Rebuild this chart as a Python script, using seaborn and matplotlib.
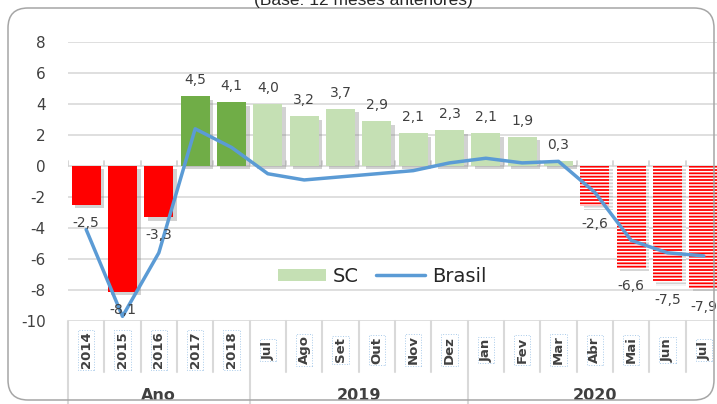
import numpy as np
import pandas as pd
import seaborn as sns
import matplotlib
matplotlib.use("Agg")
import matplotlib.pyplot as plt
import matplotlib.patheffects as pe
from matplotlib.patches import Patch, FancyBboxPatch
from matplotlib.lines import Line2D
from matplotlib.transforms import IdentityTransform, blended_transform_factory

# ---- data ----
cat_labels = ["2014", "2015", "2016", "2017", "2018",
              "Jul", "Ago", "Set", "Out", "Nov", "Dez",
              "Jan", "Fev", "Mar", "Abr", "Mai", "Jun", "Jul"]
sc = [-2.5, -8.1, -3.3, 4.5, 4.1,
      4.0, 3.2, 3.7, 2.9, 2.1, 2.3,
      2.1, 1.9, 0.3, -2.6, -6.6, -7.5, -7.9]
brasil = [-4.1, -9.7, -5.6, 2.4, 1.2,
          -0.5, -0.9, -0.7, -0.5, -0.3, 0.2,
          0.5, 0.2, 0.3, -1.7, -4.8, -5.6, -5.8]
groups = ["Ano", "2019", "2020"]
group_sizes = [5, 6, 7]
yticks = list(range(-10, 9, 2))
title = "(Base: 12 meses anteriores)"

RED = "#FF0000"
DKGREEN = "#70AD47"
LTGREEN = "#C5E0B4"
BLUE = "#5B9BD5"
bar_colors = [RED] * 3 + [DKGREEN] * 2 + [LTGREEN] * 9 + [RED] * 4
hatched = [False] * 14 + [True] * 4

sns.set_theme(style="white")
plt.rcParams["font.family"] = ["DejaVu Sans"]
plt.rcParams["axes.unicode_minus"] = False
plt.rcParams["hatch.linewidth"] = 1.1

fig = plt.figure(figsize=(7.17, 4.04), dpi=100)
W, H = 717, 404
x0, x1 = 68, 722
ybot, ytop = 321, 42
ax = fig.add_axes([x0 / W, 1 - ybot / H, (x1 - x0) / W, (ybot - ytop) / H])

df = pd.DataFrame({"pos": np.arange(len(sc)), "SC": sc, "Brasil": brasil})

sns.barplot(data=df, x="pos", y="SC", color=LTGREEN, saturation=1,
            width=0.8, ax=ax, zorder=3)
shadow = [pe.SimplePatchShadow(offset=(2.5, -2.5), shadow_rgbFace="#808080", alpha=0.35),
          pe.Normal()]
for p, c, h in zip(ax.patches, bar_colors, hatched):
    p.set_facecolor(c)
    if h:
        p.set_hatch("-----")
        p.set_edgecolor("white")
        p.set_linewidth(0)
    else:
        p.set_edgecolor("none")
    p.set_path_effects(shadow)

sns.lineplot(data=df, x="pos", y="Brasil", color=BLUE, lw=2.5, ax=ax,
             zorder=5, sort=False)

ax.set_xlim(-0.5, len(sc) - 0.5)
ax.set_ylim(-10, 8)
ax.set_yticks(yticks)
ax.set_yticklabels([str(t) for t in yticks])
ax.tick_params(axis="y", length=0, pad=16, labelsize=11, labelcolor="#404040")
ax.set_xticks([])
ax.set_xlabel("")
ax.set_ylabel("")
for s in ax.spines.values():
    s.set_visible(False)
for t in yticks:
    ax.axhline(t, color="#D9D9D9", lw=1.2, zorder=1)

# small tick marks on the zero line
for b in np.arange(-0.5, len(sc), 1.0):
    ax.plot([b, b], [0, 0.35], color="#D0D0D0", lw=1.2, zorder=2)

# data labels
for i, v in enumerate(sc):
    off = 11.5 if v >= 0 else -13
    ax.annotate(f"{v:.1f}".replace(".", ","), (i, v), xytext=(0, off),
                textcoords="offset points", ha="center", va="center",
                fontsize=10, color="#404040", zorder=6)

# multi-level category axis
tr = blended_transform_factory(ax.transData, ax.transAxes)
h_in = -(372 - ybot) / (ybot - ytop)
h_out = -(404 - ybot) / (ybot - ytop)
bounds = np.cumsum([0] + group_sizes) - 0.5
for b in np.arange(-0.5, len(sc), 1.0):
    full = np.any(np.isclose(b, bounds))
    ax.plot([b, b], [0, h_out if full else h_in], transform=tr, clip_on=False,
            color="#D9D9D9", lw=1.5)
for i, lab in enumerate(cat_labels):
    ax.text(i, -(350 - ybot) / (ybot - ytop), lab, transform=tr, rotation=90,
            ha="center", va="center", fontsize=9.5, fontweight="bold",
            color="#404040",
            bbox=dict(boxstyle="square,pad=0.12", fc="none", ec="#A9CBEA",
                      ls=":", lw=0.7))
for g, a, b in zip(groups, bounds[:-1], bounds[1:]):
    ax.text((a + b) / 2, -(396 - ybot) / (ybot - ytop), g, transform=tr,
            ha="center", va="center", fontsize=11.5, fontweight="bold",
            color="#404040")

# legend
handles = [Patch(facecolor=LTGREEN, edgecolor="none"),
           Line2D([0], [0], color=BLUE, lw=2.5)]
leg = ax.legend(handles, ["SC", "Brasil"], ncol=2, frameon=False,
                loc="center", bbox_to_anchor=(0.48, 0.161), fontsize=14,
                handlelength=2.5, handleheight=0.6, handletextpad=0.35,
                columnspacing=0.9)
for t in leg.get_texts():
    t.set_color("#262626")

# frame and (clipped, as in the source) title
frame = FancyBboxPatch((8, 4), 706, 392, boxstyle="round,pad=0,rounding_size=20",
                       transform=IdentityTransform(), fc="none", ec="#A6A6A6",
                       lw=1.1)
fig.add_artist(frame)
fig.text(363 / W, 1 - 5 / H, title, ha="center", va="baseline",
         fontsize=12.5, color="#262626", family=["Liberation Sans", "DejaVu Sans"])

fig.savefig("out.png", dpi=100)
